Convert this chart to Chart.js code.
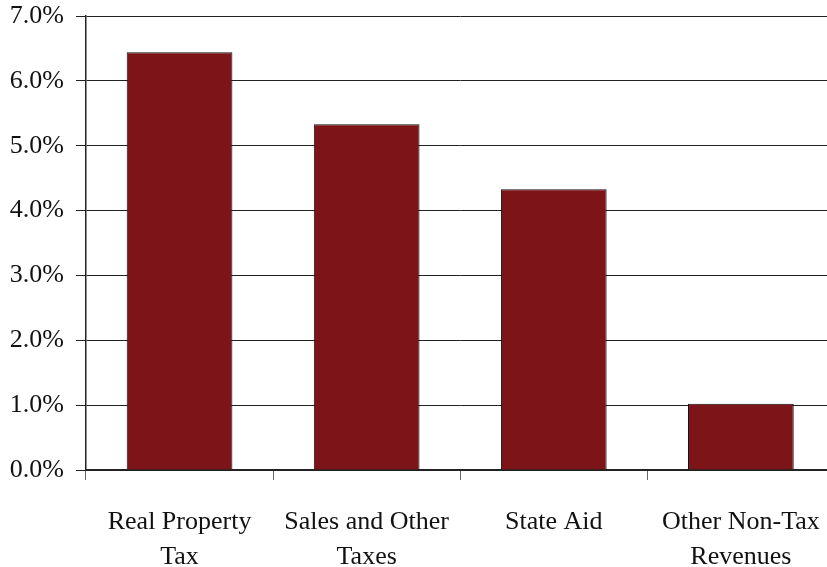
<!DOCTYPE html>
<html>
<head>
<meta charset="utf-8">
<script src="https://cdn.jsdelivr.net/npm/chart.js@4"></script>
<style>
  html, body { margin: 0; padding: 0; background: #fff; overflow: hidden; }
  #wrap { width: 846px; height: 567px; }
</style>
</head>
<body>
<div id="wrap"><canvas id="chart" width="846" height="567"></canvas></div>
<script>
// Revenue categories and growth rates (%)
const categories = [
  ['Real Property', 'Tax'],
  ['Sales and Other', 'Taxes'],
  'State Aid',
  ['Other Non-Tax', 'Revenues']
];
const growth = [6.44, 5.33, 4.33, 1.02];
const yTicks = [0, 1, 2, 3, 4, 5, 6, 7];

const serif = '"Liberation Serif", "Times New Roman", serif';

new Chart(document.getElementById('chart'), {
  type: 'bar',
  data: {
    labels: categories,
    datasets: [{
      data: growth,
      backgroundColor: '#7d1518',
      borderColor: '#111',
      borderWidth: 1,
      barPercentage: 0.565,
      categoryPercentage: 1
    }]
  },
  options: {
    responsive: false,
    animation: false,
    devicePixelRatio: 1,
    layout: { padding: { top: 16, right: 10, bottom: 0, left: 0 } },
    plugins: {
      legend: { display: false },
      tooltip: { enabled: false }
    },
    scales: {
      x: {
        offset: true,
        grid: {
          drawOnChartArea: false,
          drawTicks: true,
          tickLength: 10,
          color: '#666',
          offset: true
        },
        border: { color: '#222', width: 2 },
        ticks: {
          color: '#111',
          padding: 25,
          maxRotation: 0,
          autoSkip: false,
          font: { family: serif, size: 26, lineHeight: 1.35 }
        },
        afterFit: s => { s.height = 97; }
      },
      y: {
        min: yTicks[0],
        max: yTicks[yTicks.length - 1],
        afterBuildTicks: s => { s.ticks = yTicks.map(v => ({ value: v })); },
        grid: {
          color: '#222',
          lineWidth: 1,
          tickLength: 10
        },
        border: { color: '#222', width: 1.5 },
        ticks: {
          color: '#111',
          padding: 12,
          font: { family: serif, size: 26 },
          callback: v => v.toFixed(1) + '%'
        },
        afterFit: s => { s.width = 86; s.paddingTop = 0; s.paddingBottom = 0; }
      }
    }
  }
});
</script>
</body>
</html>
